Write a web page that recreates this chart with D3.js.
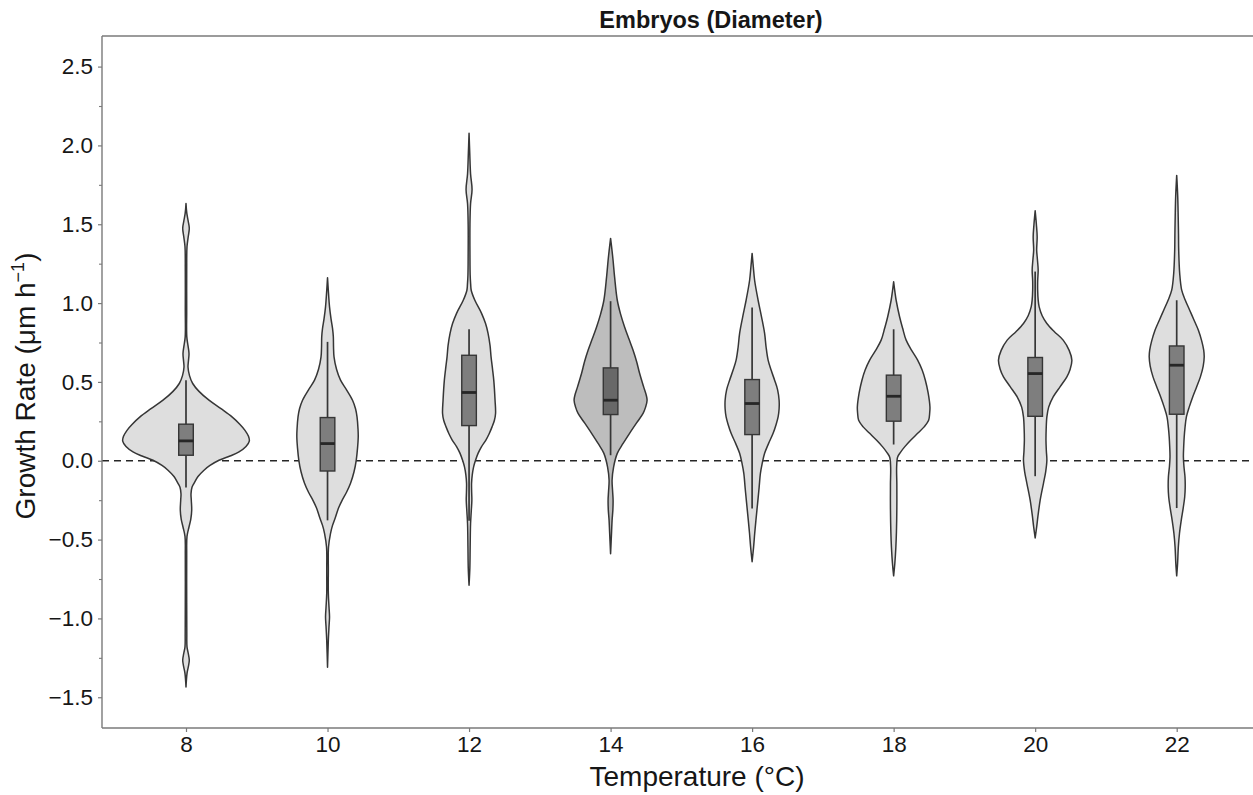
<!DOCTYPE html>
<html>
<head>
<meta charset="utf-8">
<script src="https://cdn.jsdelivr.net/npm/d3@7"></script>
<style>
  html, body { margin: 0; padding: 0; background: #ffffff; }
  svg { display: block; font-family: "Liberation Sans", Arial, sans-serif; }
</style>
</head>
<body>
<svg id="chart" width="1253" height="795"></svg>
<script>
// Temperature groups
const temperatures = ["8", "10", "12", "14", "16", "18", "20", "22"];

// Kernel density profiles: [growth rate, relative density]
const density8 = [[1.632,0],[1.57,0.08],[1.52,0.22],[1.475,0.33],[1.42,0.22],[1.357,0.1],[1.2,0.07],[0.95,0.07],[0.786,0.08],[0.73,0.2],[0.68,0.3],[0.63,0.24],[0.595,0.2],[0.54,0.35],[0.49,0.67],[0.44,1.3],[0.384,2.3],[0.33,3.5],[0.278,4.6],[0.23,5.4],[0.193,5.9],[0.155,6.25],[0.124,6.33],[0.09,6.0],[0.056,5.3],[0.03,4.4],[0.003,3.3],[-0.03,2.4],[-0.06,1.8],[-0.1,1.2],[-0.143,0.8],[-0.168,0.6],[-0.21,0.5],[-0.25,0.53],[-0.314,0.57],[-0.37,0.48],[-0.42,0.3],[-0.48,0.1],[-0.6,0.07],[-0.9,0.07],[-1.1,0.08],[-1.18,0.1],[-1.22,0.22],[-1.266,0.33],[-1.31,0.22],[-1.35,0.1],[-1.435,0]];
const density10 = [[1.16,0],[1.08,0.08],[0.976,0.2],[0.9,0.35],[0.84,0.5],[0.786,0.58],[0.72,0.6],[0.659,0.65],[0.58,0.9],[0.511,1.3],[0.45,1.9],[0.384,2.5],[0.33,2.8],[0.278,2.95],[0.2,3.05],[0.151,3.07],[0.08,3.0],[0.003,2.87],[-0.07,2.65],[-0.143,2.3],[-0.2,1.9],[-0.25,1.47],[-0.3,1.1],[-0.357,0.8],[-0.41,0.5],[-0.46,0.3],[-0.547,0.1],[-0.7,0.08],[-0.84,0.08],[-0.93,0.15],[-0.991,0.2],[-1.05,0.15],[-1.14,0.08],[-1.31,0]];
const density12 = [[2.077,0],[1.95,0.07],[1.82,0.15],[1.72,0.3],[1.63,0.15],[1.5,0.09],[1.3,0.09],[1.18,0.11],[1.12,0.16],[1.08,0.22],[1.018,0.58],[0.935,1.25],[0.87,1.65],[0.808,1.9],[0.73,2.1],[0.659,2.2],[0.58,2.35],[0.511,2.47],[0.384,2.6],[0.3,2.65],[0.255,2.53],[0.215,2.3],[0.17,2.0],[0.13,1.67],[0.09,1.25],[0.047,0.9],[0.0,0.63],[-0.04,0.45],[-0.09,0.32],[-0.143,0.25],[-0.2,0.26],[-0.25,0.28],[-0.32,0.22],[-0.4,0.15],[-0.55,0.11],[-0.68,0.08],[-0.79,0]];
const density14 = [[1.41,0],[1.33,0.15],[1.27,0.25],[1.166,0.4],[1.018,0.67],[0.93,1.0],[0.849,1.4],[0.77,1.85],[0.701,2.25],[0.63,2.6],[0.555,2.9],[0.47,3.3],[0.42,3.55],[0.384,3.65],[0.34,3.5],[0.3,3.25],[0.24,2.6],[0.174,1.9],[0.11,1.25],[0.047,0.67],[-0.04,0.3],[-0.124,0.15],[-0.19,0.2],[-0.25,0.25],[-0.31,0.23],[-0.378,0.15],[-0.45,0.1],[-0.59,0]];
const density16 = [[1.315,0],[1.23,0.12],[1.145,0.25],[1.018,0.6],[0.91,0.95],[0.808,1.25],[0.72,1.4],[0.638,1.6],[0.575,1.9],[0.511,2.25],[0.45,2.55],[0.384,2.7],[0.33,2.7],[0.278,2.6],[0.23,2.4],[0.174,2.1],[0.11,1.65],[0.047,1.25],[-0.02,1.0],[-0.08,0.83],[-0.17,0.7],[-0.25,0.58],[-0.378,0.38],[-0.46,0.26],[-0.547,0.15],[-0.64,0]];
const density18 = [[1.135,0],[1.07,0.13],[1.018,0.25],[0.912,0.6],[0.84,0.9],[0.765,1.25],[0.7,1.8],[0.638,2.4],[0.575,2.85],[0.511,3.17],[0.43,3.45],[0.341,3.63],[0.3,3.6],[0.257,3.5],[0.215,3.05],[0.174,2.4],[0.13,1.7],[0.088,1.1],[0.055,0.7],[0.024,0.4],[-0.04,0.3],[-0.15,0.32],[-0.3,0.32],[-0.45,0.28],[-0.55,0.22],[-0.65,0.12],[-0.73,0]];
const density20 = [[1.585,0],[1.5,0.12],[1.42,0.2],[1.336,0.15],[1.28,0.22],[1.21,0.3],[1.14,0.25],[1.082,0.25],[1.02,0.3],[0.976,0.4],[0.92,0.7],[0.871,1.17],[0.82,1.9],[0.765,2.8],[0.7,3.4],[0.638,3.67],[0.58,3.5],[0.532,3.17],[0.47,2.5],[0.405,1.8],[0.34,1.35],[0.278,1.17],[0.2,1.1],[0.13,1.08],[0.06,1.12],[0.003,1.17],[-0.07,1.05],[-0.143,0.83],[-0.25,0.5],[-0.35,0.28],[-0.42,0.15],[-0.49,0]];
const density22 = [[1.81,0],[1.68,0.1],[1.547,0.15],[1.44,0.18],[1.336,0.2],[1.188,0.3],[1.082,0.5],[1.02,0.85],[0.955,1.3],[0.89,1.75],[0.828,2.17],[0.76,2.5],[0.701,2.7],[0.659,2.75],[0.6,2.65],[0.532,2.37],[0.47,2.0],[0.405,1.6],[0.34,1.25],[0.278,0.97],[0.21,0.83],[0.151,0.75],[0.09,0.7],[0.024,0.67],[-0.04,0.73],[-0.103,0.83],[-0.17,0.85],[-0.23,0.8],[-0.3,0.65],[-0.38,0.45],[-0.46,0.28],[-0.55,0.16],[-0.65,0.09],[-0.73,0]];
const densities = [density8, density10, density12, density14, density16, density18, density20, density22];

// Box summaries per group
const whiskerLow  = [-0.17, -0.378, -0.38, 0.035, -0.303, 0.103, -0.098, -0.3];
const quartile1   = [0.035, -0.065, 0.223, 0.293, 0.166, 0.251, 0.282, 0.295];
const medians     = [0.126, 0.109, 0.433, 0.384, 0.363, 0.409, 0.553, 0.606];
const quartile3   = [0.232, 0.274, 0.669, 0.589, 0.515, 0.543, 0.655, 0.728];
const whiskerHigh = [0.511, 0.754, 0.834, 1.012, 0.972, 0.834, 1.2, 1.018];

// Axis ticks
const yMajorTicks = [-1.5, -1.0, -0.5, 0.0, 0.5, 1.0, 1.5, 2.0, 2.5];
const yMinorTicks = [-1.25, -0.75, -0.25, 0.25, 0.75, 1.25, 1.75, 2.25];

const svg = d3.select("#chart");
const plot = { left: 102, right: 1253, top: 36, bottom: 728 };

const x = d3.scalePoint().domain(temperatures).range([186, 1176.7]);
const y = d3.scaleLinear().domain([-1.695, 2.694]).range([plot.bottom, plot.top]);
const w = d3.scaleLinear().domain([0, 6.4]).range([0, 64]);

const axisColor = "#7a7a7a";
const textColor = "#161616";

// Reference line at zero growth
svg.append("line")
  .attr("x1", plot.left).attr("x2", plot.right)
  .attr("y1", y(0)).attr("y2", y(0))
  .attr("stroke", "#262626").attr("stroke-width", 1.7)
  .attr("stroke-dasharray", "7,5");

// Violins
const violinFill = d => d === "14" ? "#bdbdbd" : "#dedede";
const boxFill = d => d === "14" ? "#686868" : "#7e7e7e";

temperatures.forEach((t, i) => {
  const cx = x(t);
  const area = d3.area()
    .curve(d3.curveCatmullRom.alpha(0.5))
    .y(d => y(d[0]))
    .x0(d => cx - w(d[1]))
    .x1(d => cx + w(d[1]));
  svg.append("path")
    .datum(densities[i])
    .attr("d", area)
    .attr("fill", violinFill(t))
    .attr("stroke", "#363636")
    .attr("stroke-width", 1.5)
    .attr("stroke-linejoin", "round");
});

// Box plots
const g = svg.append("g").selectAll("g").data(temperatures).join("g");
g.append("line")
  .attr("x1", d => x(d)).attr("x2", d => x(d))
  .attr("y1", (d, i) => y(whiskerLow[i])).attr("y2", (d, i) => y(whiskerHigh[i]))
  .attr("stroke", "#363636").attr("stroke-width", 1.7);
g.append("rect")
  .attr("x", d => x(d) - 7.3).attr("width", 14.6)
  .attr("y", (d, i) => y(quartile3[i]))
  .attr("height", (d, i) => y(quartile1[i]) - y(quartile3[i]))
  .attr("fill", d => boxFill(d))
  .attr("stroke", "#363636").attr("stroke-width", 1.4);
g.append("line")
  .attr("x1", d => x(d) - 7.3).attr("x2", d => x(d) + 7.3)
  .attr("y1", (d, i) => y(medians[i])).attr("y2", (d, i) => y(medians[i]))
  .attr("stroke", "#262626").attr("stroke-width", 2.8);

// Spines: left, bottom, top
svg.append("line").attr("x1", plot.left).attr("x2", plot.left)
  .attr("y1", plot.top).attr("y2", plot.bottom)
  .attr("stroke", axisColor).attr("stroke-width", 1.4);
svg.append("line").attr("x1", plot.left).attr("x2", plot.right)
  .attr("y1", plot.bottom).attr("y2", plot.bottom)
  .attr("stroke", axisColor).attr("stroke-width", 1.4);
svg.append("line").attr("x1", plot.left).attr("x2", plot.right)
  .attr("y1", plot.top).attr("y2", plot.top)
  .attr("stroke", axisColor).attr("stroke-width", 1.4);

// Y axis
const yAxis = svg.append("g")
  .attr("transform", `translate(${plot.left},0)`)
  .call(d3.axisLeft(y).tickValues(yMajorTicks).tickSize(4).tickPadding(5)
    .tickFormat(d => d3.format(".1f")(d).replace("-", "\u2212")));
yAxis.select(".domain").remove();
yAxis.selectAll(".tick line").attr("stroke", axisColor).attr("stroke-width", 1.2);
yAxis.selectAll(".tick text").attr("font-size", 22.5).attr("fill", textColor)
  .attr("font-family", "Liberation Sans, Arial, sans-serif");

const yMinor = svg.append("g")
  .attr("transform", `translate(${plot.left},0)`)
  .call(d3.axisLeft(y).tickValues(yMinorTicks).tickSize(3).tickFormat(""));
yMinor.select(".domain").remove();
yMinor.selectAll(".tick line").attr("stroke", axisColor).attr("stroke-width", 1.1);

// X axis
const xAxis = svg.append("g")
  .attr("transform", `translate(0,${plot.bottom})`)
  .call(d3.axisBottom(x).tickSize(4).tickPadding(4));
xAxis.select(".domain").remove();
xAxis.selectAll(".tick line").attr("stroke", axisColor).attr("stroke-width", 1.2);
xAxis.selectAll(".tick text").attr("font-size", 22.5).attr("fill", textColor)
  .attr("font-family", "Liberation Sans, Arial, sans-serif");

// Titles
svg.append("text")
  .attr("x", 711).attr("y", 28)
  .attr("text-anchor", "middle")
  .attr("font-size", 23.5).attr("font-weight", "bold").attr("fill", textColor)
  .text("Embryos (Diameter)");

svg.append("text")
  .attr("x", 697).attr("y", 786)
  .attr("text-anchor", "middle")
  .attr("font-size", 28).attr("fill", textColor)
  .text("Temperature (\u00B0C)");

const yLabel = svg.append("text")
  .attr("transform", "translate(35,386) rotate(-90)")
  .attr("text-anchor", "middle")
  .attr("font-size", 28).attr("fill", textColor);
yLabel.append("tspan").text("Growth Rate (\u03BCm h");
yLabel.append("tspan").attr("font-size", 18).attr("dy", -11).text("\u22121");
yLabel.append("tspan").attr("dy", 11).text(")");
</script>
</body>
</html>
